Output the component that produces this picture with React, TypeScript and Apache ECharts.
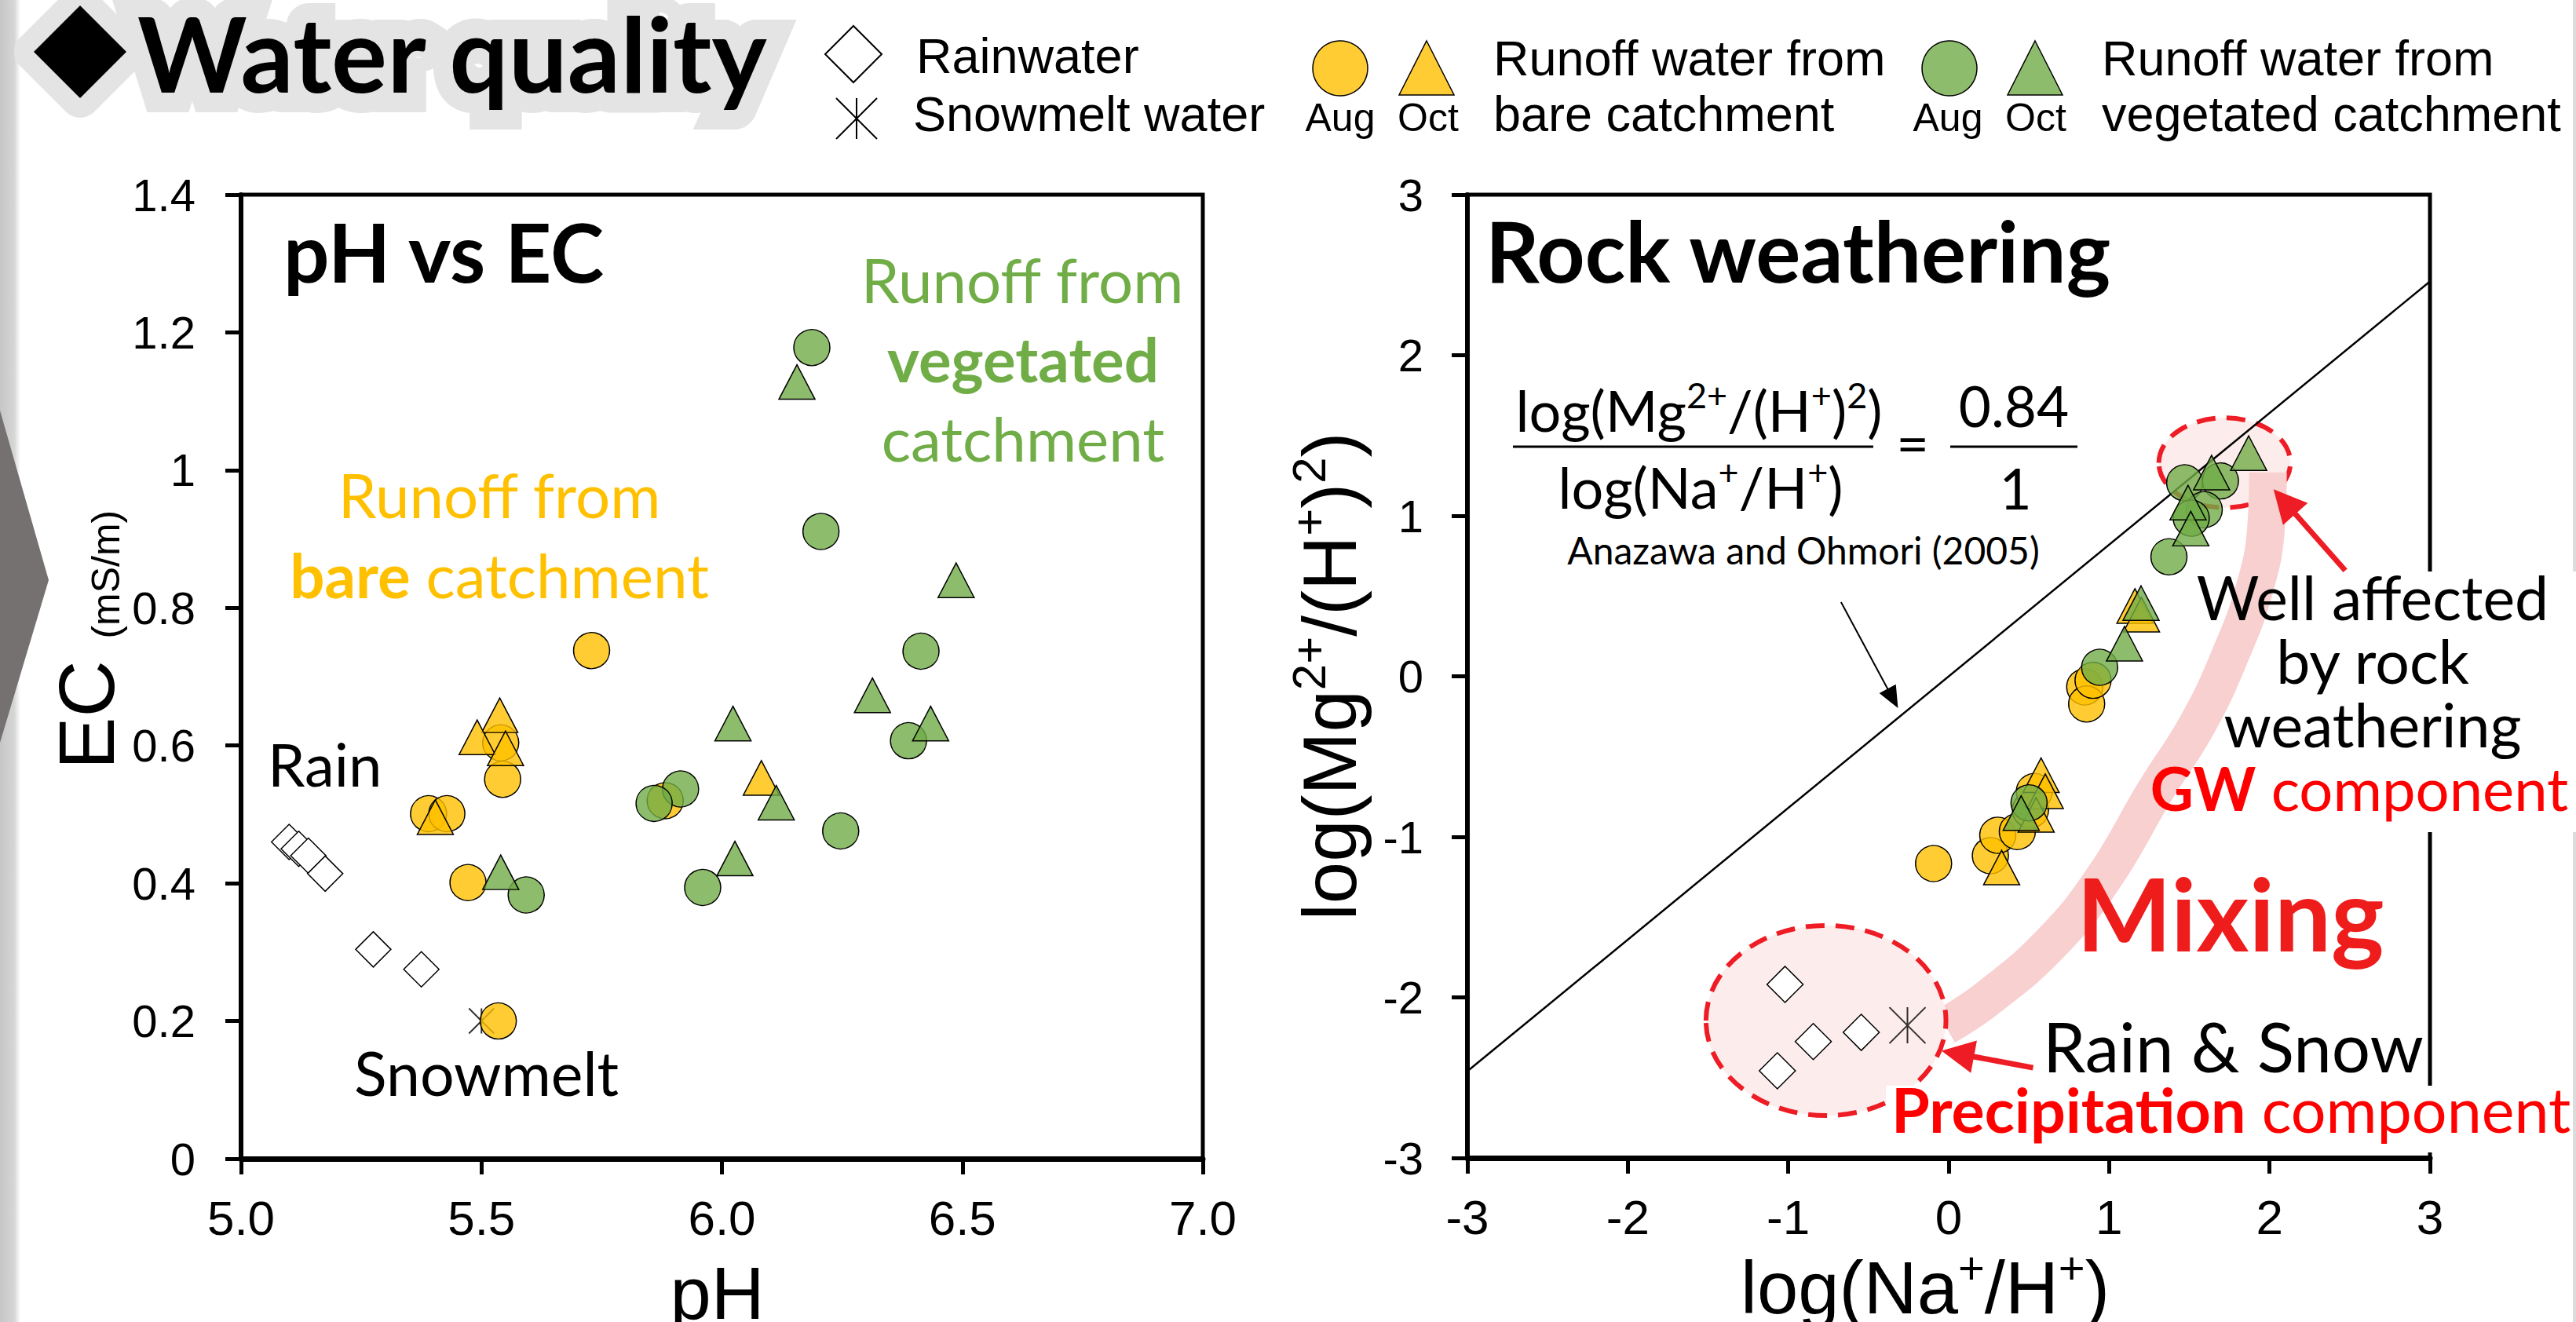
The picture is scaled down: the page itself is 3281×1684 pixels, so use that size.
import React, { useEffect, useRef } from "react";
import * as echarts from "echarts";

// ---------------- Left panel: pH vs EC ----------------
const phMin = 5.0, phMax = 7.0, phStep = 0.5;
const ecMin = 0, ecMax = 1.4, ecStep = 0.2;
const rainPH = [5.10, 5.12, 5.14, 5.175, 5.275, 5.375];
const rainEC = [0.46, 0.45, 0.44, 0.414, 0.304, 0.275];
const snowPH = [5.50];
const snowEC = [0.20];
const bareAugPH = [5.729, 5.540, 5.544, 5.390, 5.428, 5.472, 5.535, 5.882];
const bareAugEC = [0.738, 0.604, 0.551, 0.501, 0.501, 0.401, 0.200, 0.520];
const bareOctPH = [5.538, 5.491, 5.550, 5.404, 6.082];
const bareOctEC = [0.644, 0.612, 0.596, 0.496, 0.553];
const vegAugPH = [6.187, 6.206, 6.414, 6.388, 6.247, 5.914, 5.859, 5.960, 5.593];
const vegAugEC = [1.178, 0.911, 0.737, 0.607, 0.476, 0.537, 0.516, 0.394, 0.383];
const vegOctPH = [6.156, 6.487, 6.313, 6.434, 6.023, 6.113, 6.027, 5.540];
const vegOctEC = [1.128, 0.840, 0.673, 0.632, 0.632, 0.517, 0.436, 0.416];

// ---------------- Right panel: rock weathering ----------------
const logMin = -3, logMax = 3, logStep = 1;
const rainNa = [-1.020, -0.844, -0.545, -1.068];
const rainMg = [-1.919, -2.275, -2.218, -2.457];
const snowNa = [-0.257];
const snowMg = [-2.174];
const bareAugNa = [-0.094, 0.260, 0.306, 0.428, 0.510, 0.534, 0.848, 0.860, 0.900];
const bareAugMg = [-1.166, -1.117, -0.990, -0.967, -0.832, -0.718, -0.066, -0.172, -0.025];
const bareOctNa = [0.330, 0.576, 0.602, 0.545, 1.161, 1.202];
const bareOctMg = [-1.191, -0.616, -0.716, -0.863, 0.438, 0.384];
const vegAugNa = [1.471, 1.694, 1.593, 1.512, 1.373, 0.941, 0.501];
const vegAugMg = [1.205, 1.217, 1.038, 0.985, 0.744, 0.056, -0.788];
const vegOctNa = [1.870, 1.639, 1.492, 1.509, 1.199, 1.096, 0.452];
const vegOctMg = [1.390, 1.269, 1.082, 0.920, 0.456, 0.203, -0.852];
// reference line (Anazawa and Ohmori 2005)
const refNa = [-3, 3];
const refMg = [-2.46, 2.46];
// "Mixing" band centre line
const mixNa = [-0.02, 0.25, 0.64, 0.97, 1.29, 1.55, 1.75, 1.91, 1.98, 1.99];
const mixMg = [-2.18, -2.0, -1.66, -1.25, -0.71, -0.3, 0.12, 0.56, 0.95, 1.27];
// annotation ellipses [cx, cy, rx, ry] in data units
const gwEllipse = [1.72, 1.33, 0.41, 0.28];
const precipEllipse = [-0.765, -2.144, 0.748, 0.592];
// arrows (kind 0 black, 1 red)
const arrowTailNa = [-0.671, 2.472, 0.526];
const arrowTailMg = [0.462, 0.659, -2.438];
const arrowTipNa = [-0.316, 2.025, -0.045];
const arrowTipMg = [-0.198, 1.165, -2.332];
const arrowKind = [0, 1, 1];

const zip = (a: number[], b: number[]) => a.map((v, i) => [v, b[i]]);

const LATO = "Lato, 'Open Sans', sans-serif";
const ARIAL = "'Liberation Sans', Arial, sans-serif";
const YELLOW = "rgba(255,192,0,0.8)";
const GREEN = "rgba(112,173,71,0.8)";
const GTXT = "#70AD47";
const YTXT = "#FFC000";
const RED = "#FF0000";
const RED2 = "#EE1C24";
const GLOW = "#e4e4e4";
const ASTERISK = "path://M10,0L10,20M0,0L20,20M20,0L0,20";

const KL = 0.387;
const KA = 0.3465;

function label(text: string, x: number, baseline: number, size: number, o: any = {}) {
  const fam = o.family || LATO;
  const k = fam === ARIAL ? KA : KL;
  const style: any = {
    text,
    fontSize: size,
    fontFamily: fam,
    fontWeight: o.weight || "normal",
    fill: o.color || "#000",
    align: o.align || "left",
    verticalAlign: "middle",
  };
  if (o.rich) style.rich = o.rich;
  if (o.stroke) {
    style.stroke = o.stroke;
    style.lineWidth = o.lineWidth;
    style.lineJoin = "round";
  }
  return { type: "text", x, y: baseline - k * size, z: o.z ?? 30, style };
}

function tok(size: number, weight: string, color: string, fam = LATO, extra: any = {}) {
  return { fontSize: size, fontWeight: weight, fill: color, color, fontFamily: fam, ...extra };
}

function supRich(size: number, fam: string, color = "#000") {
  const lh = Math.round(size * 1.17);
  const ss = Math.round(size * 0.62);
  return {
    n: tok(size, "normal", color, fam, { lineHeight: lh }),
    s: tok(ss, "normal", color, fam, { lineHeight: Math.round(ss * 1.25), verticalAlign: "top" }),
  };
}

function scatter(xi: number, data: number[][], symbol: string, size: any, color: string, z: number, extra: any = {}) {
  return {
    type: "scatter",
    xAxisIndex: xi,
    yAxisIndex: xi,
    data,
    symbol,
    symbolSize: size,
    z,
    itemStyle: { color, borderColor: "#000", borderWidth: 1.5, opacity: 1 },
    emphasis: { disabled: true },
    ...extra,
  };
}

function axisCommon(lineW: number, labelSize: number, margin: number) {
  return {
    type: "value",
    axisLine: { show: true, onZero: false, lineStyle: { color: "#000", width: lineW } },
    axisTick: { show: true, inside: false, length: 20, lineStyle: { color: "#000", width: 5 } },
    axisLabel: { show: true, color: "#000", fontSize: labelSize, fontFamily: ARIAL, margin, hideOverlap: false },
    splitLine: { show: false },
    nameMoveOverlap: false,
  };
}

function ellipseSeries(e: number[], z: number) {
  return {
    type: "custom",
    xAxisIndex: 1,
    yAxisIndex: 1,
    z,
    silent: true,
    data: [e],
    renderItem: (_p: any, api: any) => {
      const c = api.coord([api.value(0), api.value(1)]);
      const s = api.size([api.value(2), api.value(3)], [api.value(0), api.value(1)]);
      return {
        type: "ellipse",
        shape: { cx: c[0], cy: c[1], rx: s[0], ry: s[1] },
        style: { fill: "#FDECEC", stroke: RED2, lineWidth: 6, lineDash: [24, 14] },
      };
    },
  };
}

const legendY1 = 87;
const titleDiamond = [[102, 7], [161, 66], [102, 125], [43, 66]];

const graphics: any[] = [
  // left edge decoration
  {
    type: "rect", z: 1, shape: { x: 0, y: 0, width: 26, height: 1684 },
    style: { fill: new echarts.graphic.LinearGradient(0, 0, 1, 0, [{ offset: 0, color: "#c6c6c6" }, { offset: 0.7, color: "#d6d6d6" }, { offset: 1, color: "#ffffff" }]) },
  },
  { type: "polygon", z: 2, shape: { points: [[0, 523], [62, 739], [0, 946]] }, style: { fill: "#767171" } },
  { type: "rect", z: 1, shape: { x: 3277, y: 0, width: 4, height: 1684 }, style: { fill: "#dcdcdc" } },
  // title: black text painted over a wide grey halo stroke
  { type: "polygon", z: 20, shape: { points: titleDiamond }, style: { fill: GLOW, stroke: GLOW, lineWidth: 50, lineJoin: "round" } },
  { type: "polygon", z: 21, shape: { points: titleDiamond }, style: { fill: "#000" } },
  label("Water quality", 175, 118, 133, { weight: "bold", z: 21, stroke: GLOW, lineWidth: 50 }),
  // legend
  { type: "polygon", z: 30, shape: { points: [[1087, 33], [1123, 69], [1087, 105], [1051, 69]] }, style: { fill: "#fff", stroke: "#000", lineWidth: 2 } },
  label("Rainwater", 1167, 93, 63, { family: ARIAL }),
  { type: "line", z: 30, shape: { x1: 1091, y1: 125, x2: 1091, y2: 177 }, style: { stroke: "#000", lineWidth: 2 } },
  { type: "line", z: 30, shape: { x1: 1065, y1: 125, x2: 1117, y2: 177 }, style: { stroke: "#000", lineWidth: 2 } },
  { type: "line", z: 30, shape: { x1: 1117, y1: 125, x2: 1065, y2: 177 }, style: { stroke: "#000", lineWidth: 2 } },
  label("Snowmelt water", 1163, 167, 63, { family: ARIAL }),
  { type: "circle", z: 30, shape: { cx: 1707, cy: legendY1, r: 35 }, style: { fill: YELLOW, stroke: "#000", lineWidth: 1.5 } },
  { type: "polygon", z: 30, shape: { points: [[1817, 52], [1852, 121], [1782, 121]] }, style: { fill: YELLOW, stroke: "#000", lineWidth: 1.5 } },
  label("Aug", 1707, 167, 50, { family: ARIAL, align: "center" }),
  label("Oct", 1819, 167, 50, { family: ARIAL, align: "center" }),
  label("Runoff water from", 1902, 96, 63, { family: ARIAL }),
  label("bare catchment", 1902, 167, 63, { family: ARIAL }),
  { type: "circle", z: 30, shape: { cx: 2483, cy: legendY1, r: 35 }, style: { fill: GREEN, stroke: "#000", lineWidth: 1.5 } },
  { type: "polygon", z: 30, shape: { points: [[2592, 52], [2627, 121], [2557, 121]] }, style: { fill: GREEN, stroke: "#000", lineWidth: 1.5 } },
  label("Aug", 2481, 167, 50, { family: ARIAL, align: "center" }),
  label("Oct", 2593, 167, 50, { family: ARIAL, align: "center" }),
  label("Runoff water from", 2677, 96, 63, { family: ARIAL }),
  label("vegetated catchment", 2677, 167, 63, { family: ARIAL }),
  // EC axis name (rotated)
  {
    type: "text", x: 160, y: 815, rotation: Math.PI / 2, z: 30,
    style: {
      text: "{a|EC }{b|(mS/m)}", align: "center", verticalAlign: "bottom",
      rich: {
        a: tok(100, "normal", "#000", ARIAL, { lineHeight: 100 }),
        b: tok(50, "normal", "#000", ARIAL, { lineHeight: 65, verticalAlign: "bottom" }),
      },
    },
  },
  // left panel annotations
  label("pH vs EC", 361, 360, 103, { weight: "bold" }),
  label("Runoff from", 1302, 386, 78, { color: GTXT, align: "center" }),
  label("vegetated", 1303, 487, 78, { color: GTXT, align: "center", weight: "bold" }),
  label("catchment", 1303, 588, 78, { color: GTXT, align: "center" }),
  label("Runoff from", 636, 660, 78, { color: YTXT, align: "center" }),
  label("{b|bare}{r| catchment}", 636, 762, 78, {
    align: "center",
    rich: { b: tok(78, "bold", YTXT), r: tok(78, "normal", YTXT) },
  }),
  label("Rain", 341, 1002, 76),
  label("Snowmelt", 451, 1396, 77),
  // right panel annotations
  label("Rock weathering", 1892, 360, 107, { weight: "bold" }),
  label("{n|log(Mg}{s|2+}{n|/(H}{s|+}{n|)}{s|2}{n|)}", 2164, 550, 72, { align: "center", rich: supRich(72, LATO) }),
  { type: "line", z: 30, shape: { x1: 1927, y1: 569, x2: 2386, y2: 569 }, style: { stroke: "#000", lineWidth: 3 } },
  label("=", 2436, 591, 72, { align: "center" }),
  label("0.84", 2565, 544, 71, { align: "center" }),
  { type: "line", z: 30, shape: { x1: 2484, y1: 569, x2: 2646, y2: 569 }, style: { stroke: "#000", lineWidth: 3 } },
  label("{n|log(Na}{s|+}{n|/H}{s|+}{n|)}", 2166, 648, 72, { align: "center", rich: supRich(72, LATO) }),
  label("1", 2567, 649, 71, { align: "center" }),
  label("Anazawa and Ohmori (2005)", 2297, 719, 48, { align: "center" }),
  // white boxes behind right-hand texts (hide the frame)
  { type: "rect", z: 11, shape: { x: 2960, y: 728, width: 321, height: 332 }, style: { fill: "#fff" } },
  { type: "rect", z: 11, shape: { x: 2402, y: 1383, width: 874, height: 85 }, style: { fill: "#fff" } },
  // GW block: four lines in one text
  {
    type: "text", x: 3022, y: 881.7, z: 30,
    style: {
      text: "{n|Well affected}\n{n|by rock}\n{n|weathering}\n{b|GW}{r| component}",
      align: "center", verticalAlign: "middle",
      rich: {
        n: tok(77, "normal", "#000", LATO, { lineHeight: 81 }),
        b: tok(76, "bold", RED, LATO, { lineHeight: 81 }),
        r: tok(76, "normal", RED, LATO, { lineHeight: 81, padding: [0, 34, 0, 0] }),
      },
    },
  },
  label("Mixing", 2645, 1212, 128, { weight: "bold", color: "#EF1C1C" }),
  // Rain & Snow / Precipitation component block
  {
    type: "text", x: 2409, y: 1372.3, z: 30,
    style: {
      text: "{a|Rain & Snow}\n{b|Precipitation}{r| component}",
      align: "left", verticalAlign: "middle",
      rich: {
        a: tok(87, "normal", "#000", LATO, { lineHeight: 80, padding: [0, 0, 0, 193] }),
        b: tok(79, "bold", RED, LATO, { lineHeight: 80 }),
        r: tok(79, "normal", RED, LATO, { lineHeight: 80 }),
      },
    },
  },
];

const option: any = {
  animation: false,
  backgroundColor: "#ffffff",
  grid: [
    { left: 307, top: 248, width: 1225, height: 1228, show: true, borderColor: "#000", borderWidth: 5, backgroundColor: "transparent", containLabel: false, outerBoundsMode: "none" },
    { left: 1869, top: 248, width: 1226, height: 1227, show: true, borderColor: "#000", borderWidth: 5, backgroundColor: "transparent", containLabel: false, outerBoundsMode: "none" },
  ],
  xAxis: [
    {
      ...axisCommon(7, 62, 44), gridIndex: 0, min: phMin, max: phMax, interval: phStep,
      axisLabel: { ...axisCommon(7, 62, 44).axisLabel, formatter: (v: number) => v.toFixed(1) },
      name: "{n|pH}", nameLocation: "middle", nameGap: 116,
      nameTextStyle: { rich: supRich(94, ARIAL), padding: [0, 12, 0, 0] },
    },
    {
      ...axisCommon(7, 62, 44), gridIndex: 1, min: logMin, max: logMax, interval: logStep,
      name: "{n|log(Na}{s|+}{n|/H}{s|+}{n|)}", nameLocation: "middle", nameGap: 110,
      nameTextStyle: { rich: supRich(94, ARIAL), padding: [0, 60, 0, 0] },
    },
  ],
  yAxis: [
    { ...axisCommon(6, 58, 58), gridIndex: 0, min: ecMin, max: ecMax, interval: ecStep },
    {
      ...axisCommon(6, 58, 56), gridIndex: 1, min: logMin, max: logMax, interval: logStep,
      name: "{n|log(Mg}{s|2+}{n|/(H}{s|+}{n|)}{s|2}{n|)}", nameLocation: "middle", nameRotate: 90, nameGap: 120,
      nameTextStyle: { rich: supRich(96, ARIAL) },
    },
  ],
  series: [
    // left panel
    scatter(0, zip(rainPH, rainEC), "diamond", 45, "#ffffff", 5),
    scatter(0, zip(snowPH, snowEC), ASTERISK, 32, "rgba(0,0,0,0)", 5, { itemStyle: { color: "rgba(0,0,0,0)", borderColor: "#000", borderWidth: 2 } }),
    scatter(0, zip(bareAugPH, bareAugEC), "circle", 46, YELLOW, 6),
    scatter(0, zip(bareOctPH, bareOctEC), "triangle", [46, 44], YELLOW, 7),
    scatter(0, zip(vegAugPH, vegAugEC), "circle", 46, GREEN, 8),
    scatter(0, zip(vegOctPH, vegOctEC), "triangle", [46, 44], GREEN, 9),
    // right panel
    ellipseSeries(gwEllipse, 1),
    {
      type: "line", xAxisIndex: 1, yAxisIndex: 1, z: 2, silent: true, smooth: 0.45, symbol: "none",
      data: zip(mixNa, mixMg), lineStyle: { color: "#F9D0D0", width: 48, cap: "butt" },
    },
    ellipseSeries(precipEllipse, 3),
    {
      type: "line", xAxisIndex: 1, yAxisIndex: 1, z: 4, silent: true, symbol: "none",
      data: zip(refNa, refMg), lineStyle: { color: "#000", width: 2.5 },
    },
    scatter(1, zip(rainNa, rainMg), "diamond", 46, "#ffffff", 5),
    scatter(1, zip(snowNa, snowMg), ASTERISK, 46, "rgba(0,0,0,0)", 5, { itemStyle: { color: "rgba(0,0,0,0)", borderColor: "#000", borderWidth: 2 } }),
    scatter(1, zip(bareAugNa, bareAugMg), "circle", 46, YELLOW, 6),
    scatter(1, zip(bareOctNa, bareOctMg), "triangle", [46, 44], YELLOW, 7),
    scatter(1, zip(vegAugNa, vegAugMg), "circle", 46, GREEN, 8),
    scatter(1, zip(vegOctNa, vegOctMg), "triangle", [46, 44], GREEN, 9),
    {
      type: "custom", xAxisIndex: 1, yAxisIndex: 1, z: 12, silent: true,
      data: arrowTailNa.map((v, i) => [v, arrowTailMg[i], arrowTipNa[i], arrowTipMg[i], arrowKind[i]]),
      renderItem: (_p: any, api: any) => {
        const p1 = api.coord([api.value(0), api.value(1)]);
        const p2 = api.coord([api.value(2), api.value(3)]);
        const red = api.value(4) === 1;
        const color = red ? RED2 : "#000";
        const hl = red ? 42 : 28;
        const hw = red ? 42 : 24;
        const lw = red ? 7 : 2;
        const dx = p2[0] - p1[0], dy = p2[1] - p1[1];
        const L = Math.hypot(dx, dy);
        const ux = dx / L, uy = dy / L;
        const bx = p2[0] - ux * hl, by = p2[1] - uy * hl;
        const px = -uy, py = ux;
        return {
          type: "group",
          children: [
            { type: "line", shape: { x1: p1[0], y1: p1[1], x2: bx + ux * 3, y2: by + uy * 3 }, style: { stroke: color, lineWidth: lw } },
            { type: "polygon", shape: { points: [[p2[0], p2[1]], [bx + px * hw / 2, by + py * hw / 2], [bx - px * hw / 2, by - py * hw / 2]] }, style: { fill: color } },
          ],
        };
      },
    },
  ],
  graphic: { elements: graphics },
};

export default function App() {
  const ref = useRef<HTMLDivElement>(null);
  useEffect(() => {
    const chart = echarts.init(ref.current as HTMLDivElement, undefined, { renderer: "svg" });
    chart.setOption(option);
    return () => chart.dispose();
  }, []);
  return (
    <div
      ref={ref}
      style={{ position: "absolute", left: 0, top: 0, width: 3281, height: 1684, background: "#fff" }}
    />
  );
}
